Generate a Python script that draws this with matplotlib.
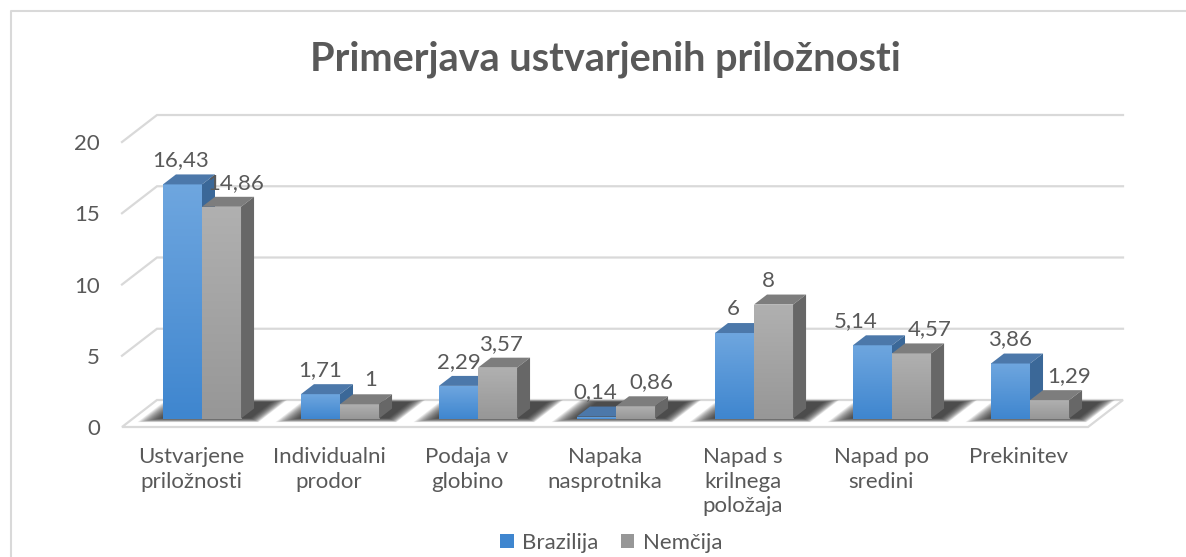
import numpy as np
import matplotlib
matplotlib.use('Agg')
import matplotlib.pyplot as plt
from matplotlib.patches import Polygon, Patch
from matplotlib.colors import LinearSegmentedColormap
from matplotlib.lines import Line2D

categories = ['Ustvarjene\npriložnosti', 'Individualni\nprodor', 'Podaja v\nglobino',
              'Napaka\nnasprotnika', 'Napad s\nkrilnega\npoložaja', 'Napad po\nsredini',
              'Prekinitev']
brazilija = [16.43, 1.71, 2.29, 0.14, 6, 5.14, 3.86]
nemcija = [14.86, 1, 3.57, 0.86, 8, 4.57, 1.29]
series_names = ['Brazilija', 'Nemčija']
yticks = [0, 5, 10, 15, 20]

# label nudges in pixels (excel moved some labels sideways)
nudge_b = [-2, 0, 0, -1, -1, -17, 0]
nudge_n = [14, 11, 3, 16, -5, 18, 20]

plt.rcParams['font.family'] = ['Lato', 'DejaVu Sans']
txt = '#595959'
grid = '#d9d9d9'
fs = 16

fig = plt.figure(figsize=(11.86, 5.57), dpi=100)
ax = fig.add_axes([0.09123, 0.2027, 0.8727, 0.6063])

n = len(categories)
# 3d look: floor depth and bar depth, in data units
DX, DY = 0.2536, 1.895
bdx, bdy = 0.0942, 0.70
off_x, off_y = 0.0797, 0.595
bw = 0.283


def grad_rect(x0, x1, y0, y1, ctop, cbot, z):
    cmap = LinearSegmentedColormap.from_list('g', [cbot, ctop])
    img = np.linspace(0, 1, 64).reshape(-1, 1)
    ax.imshow(img, cmap=cmap, extent=(x0, x1, y0, y1), origin='lower',
              aspect='auto', interpolation='bilinear', zorder=z)


def bar3d(x0, h, cols, z):
    ctop, cbot, ctopface, cside = cols
    y0 = off_y
    x0 = x0 + off_x
    x1 = x0 + bw
    grad_rect(x0, x1, y0, y0 + h, ctop, cbot, z)
    ax.add_patch(Polygon([(x0, y0 + h), (x1, y0 + h), (x1 + bdx, y0 + h + bdy), (x0 + bdx, y0 + h + bdy)],
                         closed=True, fc=ctopface, ec='none', zorder=z))
    ax.add_patch(Polygon([(x1, y0), (x1 + bdx, y0 + bdy), (x1 + bdx, y0 + h + bdy), (x1, y0 + h)],
                         closed=True, fc=cside, ec='none', zorder=z))


# back wall + side wall gridlines
for v in yticks[1:]:
    ax.plot([0, DX, n + DX], [v, v + DY, v + DY], color=grid, lw=1.6, zorder=1,
            solid_joinstyle='miter')

# floor
ax.add_patch(Polygon([(0, 0), (n, 0), (n + DX, DY), (DX, DY)], closed=True,
                     fc='white', ec=grid, lw=1.6, zorder=2))

# soft shadows under each group
for k in range(n):
    gl = k + 0.5 - bw - 0.15
    gr = k + 0.5 + bw + 0.16
    layers = 18
    for i in range(layers):
        f = i / layers
        xa, xb = gl + 0.15 * f, gr - 0.10 * f
        ta, tb = 0.18 + 0.16 * f, 1.0 - 0.08 * f
        pts = [(xa + ta * DX, ta * DY), (xb + ta * DX, ta * DY),
               (xb + tb * DX, tb * DY), (xa + tb * DX, tb * DY)]
        ax.add_patch(Polygon(pts, closed=True, fc='#262626', ec='none',
                             alpha=0.085, zorder=3))

blue = ('#6ea6df', '#3f86cf', '#4c78aa', '#3b6898')
gray = ('#b0b0b0', '#979797', '#7d7d7d', '#676767')

z = 10
for k in range(n):
    c = k + 0.5
    bar3d(c - bw, brazilija[k], blue, z)
    z += 1
    bar3d(c, nemcija[k], gray, z)
    z += 1

for k in range(n):
    c = k + 0.5 + off_x
    for val, xc, nd in [(brazilija[k], c - bw / 2, nudge_b[k]), (nemcija[k], c + bw / 2, nudge_n[k])]:
        s = ('%g' % val).replace('.', ',')
        ax.annotate(s, (xc, off_y + val + bdy), xytext=(nd * 0.72, 14 * 0.72),
                    textcoords='offset points', ha='center', va='center',
                    fontsize=fs, color=txt, zorder=100)

ax.set_xlim(-0.1, 7.4)
ax.set_ylim(-1.2, 22.5)
ax.set_yticks(yticks)
ax.set_yticklabels([str(t) for t in yticks])
ax.set_xticks(np.arange(n) + 0.5)
ax.set_xticklabels(categories, linespacing=1.3)
ax.tick_params(axis='y', length=0, pad=6, labelsize=fs, labelcolor=txt)
ax.tick_params(axis='x', length=0, pad=2, labelsize=fs, labelcolor=txt)
for sp in ax.spines.values():
    sp.set_visible(False)

fig.text(605 / 1186, 1 - 59 / 557, 'Primerjava ustvarjenih priložnosti', ha='center',
         va='center', fontsize=28.5, fontweight='bold', color=txt)

handles = [Patch(fc=blue[1], ec='none'), Patch(fc=gray[1], ec='none')]
leg = fig.legend(handles, series_names, loc='center', bbox_to_anchor=(611.5 / 1186, 1 - 543 / 557),
                 ncol=2, frameon=False, fontsize=fs, handlelength=0.6, handleheight=0.6,
                 columnspacing=1.0, handletextpad=0.4, borderpad=0)
for t in leg.get_texts():
    t.set_color(txt)

# chart border (left and top visible)
fig.add_artist(Line2D([10.5 / 1186, 10.5 / 1186, 1], [0, 1 - 10.5 / 557, 1 - 10.5 / 557],
                      transform=fig.transFigure, color=grid, lw=1.5))

fig.savefig('out.png', dpi=100)
